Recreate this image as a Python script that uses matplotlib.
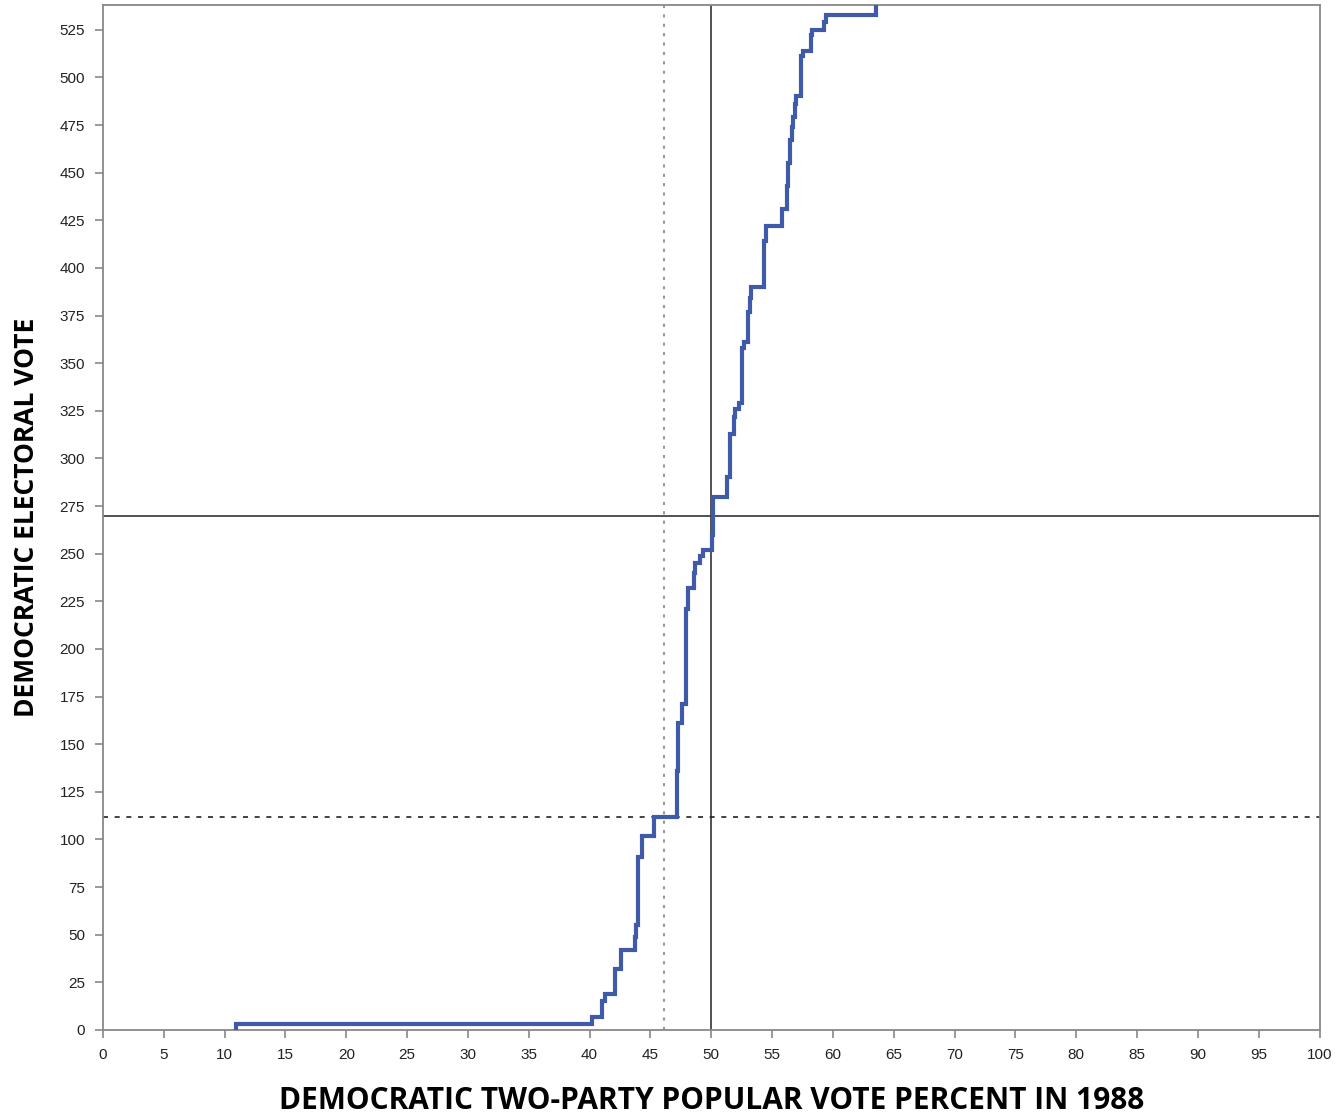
import matplotlib
matplotlib.use("Agg")
import matplotlib.pyplot as plt
import numpy as np

# states in the order they flip to the Democrat under uniform swing (1988)
states = ['DC', 'RI', 'IA', 'HI', 'MA', 'MN', 'OR', 'WV', 'NY', 'WI', 'WA',
          'IL', 'PA', 'MD', 'CA', 'VT', 'MO', 'CT', 'NM', 'MT', 'SD', 'CO', 'MI',
          'LA', 'OH', 'KY', 'ME', 'DE', 'TX', 'ND', 'NJ', 'KS', 'AR', 'NC', 'TN', 'OK',
          'AL', 'IN', 'GA', 'VA', 'MS', 'NE', 'AZ', 'NV', 'FL', 'WY', 'SC', 'AK',
          'NH', 'ID', 'UT']
# national democratic two-party percent where each state flips
flip_pct = [10.9, 40.2, 41.0, 41.3, 42.1, 42.6, 43.7, 43.8, 44.0, 44.3, 45.3,
            47.2, 47.3, 47.6, 47.9, 47.95, 48.1, 48.6, 48.7, 49.1, 49.3, 50.05, 50.1,
            51.3, 51.5, 51.9, 51.95, 52.3, 52.5, 52.7, 53.0, 53.2, 53.3, 54.3, 54.35, 54.5,
            55.8, 56.2, 56.3, 56.5, 56.6, 56.7, 56.9, 56.95, 57.4, 57.5, 58.2, 58.3,
            59.3, 59.4, 63.5]
ev = [3, 4, 8, 4, 13, 10, 7, 6, 36, 11, 10,
      24, 25, 10, 47, 3, 11, 8, 5, 4, 3, 8, 20,
      10, 23, 9, 4, 3, 29, 3, 16, 7, 6, 13, 11, 8,
      9, 12, 12, 12, 7, 5, 7, 4, 21, 3, 8, 3,
      4, 4, 5]

actual_pct = 46.1
actual_ev = 112
majority = 270

x = [flip_pct[0]] + flip_pct
y = [0] + list(np.cumsum(ev))

fig = plt.figure(figsize=(13.37, 11.13), dpi=100)
ax = fig.add_axes([0.077, 0.0746, 0.91, 0.9209])

ax.step(x, y, where='post', color='#3f5aa8', lw=3, zorder=3, solid_joinstyle='miter')

ax.axvline(50, color='#333333', lw=1.2, zorder=2)
ax.axhline(majority, color='#333333', lw=1.2, zorder=2)
ax.axvline(actual_pct, color='#999999', lw=1.5, ls=(0, (1.5, 3)), zorder=2)
ax.axhline(actual_ev, color='#222222', lw=1.2, ls=(0, (3, 4)), zorder=2)

ax.set_xlim(0, 100)
ax.set_ylim(0, 538)
ax.set_xticks(range(0, 101, 5))
ax.set_yticks(range(0, 526, 25))
ax.tick_params(axis='both', direction='out', length=6, width=1.2, color='#888888',
               labelsize=11, labelcolor='#222222', pad=7)
for lab in ax.get_xticklabels() + ax.get_yticklabels():
    lab.set_family('Liberation Sans')
for s in ax.spines.values():
    s.set_color('#888888')
    s.set_linewidth(1.3)

ax.set_xlabel('DEMOCRATIC TWO-PARTY POPULAR VOTE PERCENT IN 1988',
              fontsize=21.5, fontweight='bold', family='Open Sans', labelpad=17)
ax.set_ylabel('DEMOCRATIC ELECTORAL VOTE', fontsize=19, fontweight='bold',
              family='Open Sans', labelpad=14)

fig.savefig('out.png', dpi=100)
